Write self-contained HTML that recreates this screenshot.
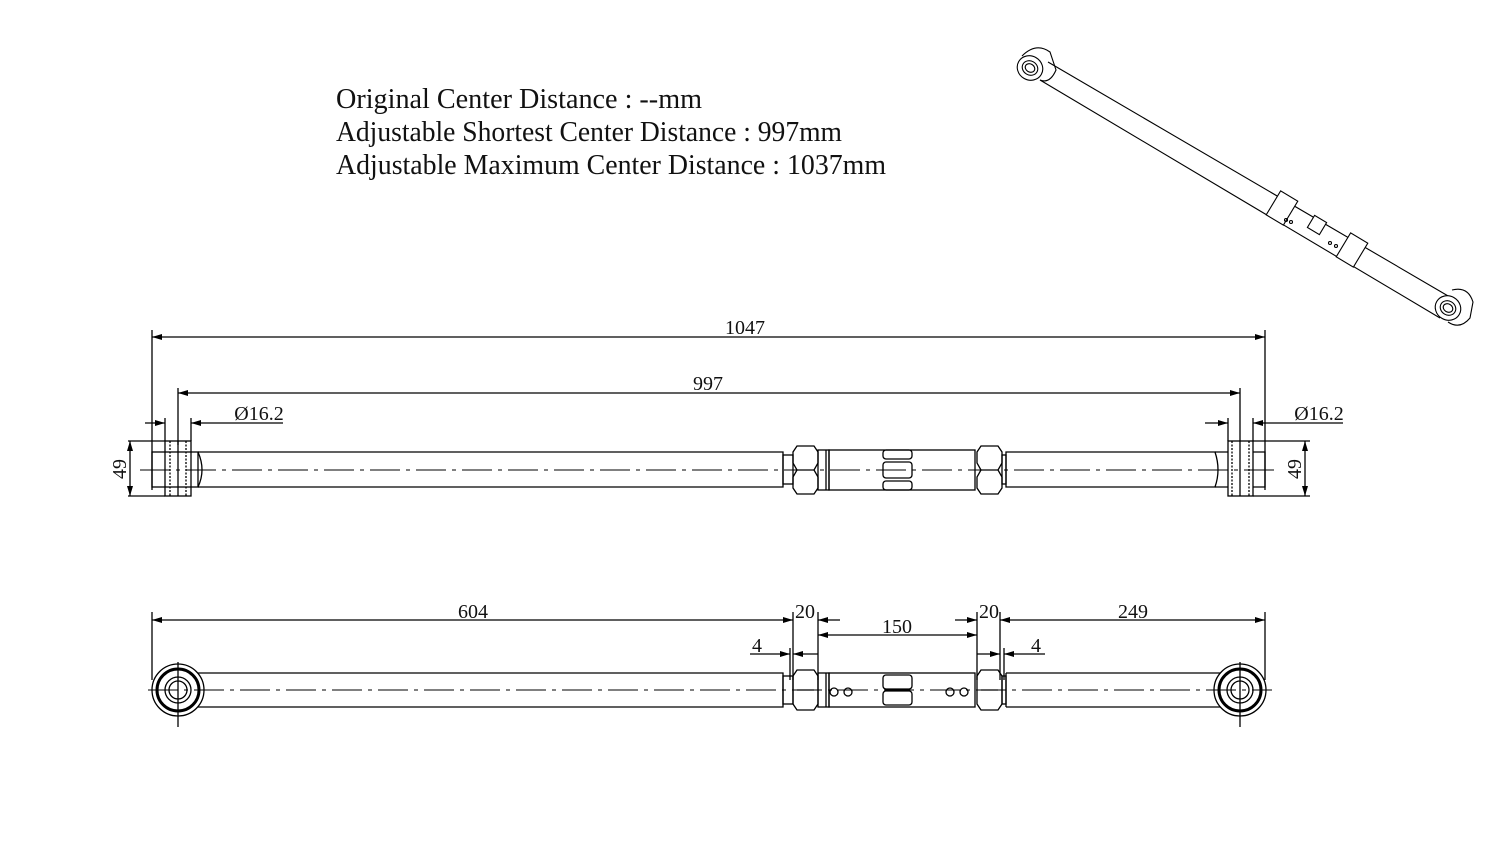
<!DOCTYPE html>
<html><head><meta charset="utf-8"><style>html,body{margin:0;padding:0;background:#fff}svg{display:block}</style></head>
<body>
<svg width="1500" height="845" viewBox="0 0 1500 845" xmlns="http://www.w3.org/2000/svg" font-family="Liberation Serif, serif">
<defs>
<marker id="a" viewBox="0 0 10 6" refX="10" refY="3" markerWidth="10" markerHeight="6" orient="auto-start-reverse" markerUnits="userSpaceOnUse"><path d="M0,0L10,3L0,6z" fill="#000"/></marker>
</defs>
<g fill="#111" font-size="28">
<text x="336" y="108" textLength="366" lengthAdjust="spacingAndGlyphs">Original  Center Distance : --mm</text>
<text x="336" y="141" textLength="506" lengthAdjust="spacingAndGlyphs">Adjustable Shortest Center Distance : 997mm</text>
<text x="336" y="174" textLength="550" lengthAdjust="spacingAndGlyphs">Adjustable Maximum  Center Distance : 1037mm</text>
</g>
<g stroke="#000" fill="none" stroke-width="1.3">
<line x1="152" y1="330" x2="152" y2="490"/><line x1="1265" y1="330" x2="1265" y2="490"/>
<line x1="152" y1="337" x2="1265" y2="337" marker-start="url(#a)" marker-end="url(#a)"/>
<line x1="178" y1="388" x2="178" y2="445"/><line x1="1240" y1="388" x2="1240" y2="445"/>
<line x1="178" y1="393" x2="1240" y2="393" marker-start="url(#a)" marker-end="url(#a)"/>
<line x1="145" y1="423" x2="165" y2="423" marker-end="url(#a)"/><line x1="211" y1="423" x2="191" y2="423" marker-end="url(#a)"/><line x1="211" y1="423" x2="283" y2="423"/>
<line x1="165" y1="418" x2="165" y2="441"/><line x1="191" y1="418" x2="191" y2="441"/>
<line x1="1205" y1="423" x2="1228" y2="423" marker-end="url(#a)"/><line x1="1275" y1="423" x2="1253" y2="423" marker-end="url(#a)"/><line x1="1275" y1="423" x2="1343" y2="423"/>
<line x1="1228" y1="418" x2="1228" y2="441"/><line x1="1253" y1="418" x2="1253" y2="441"/>
<line x1="128" y1="441" x2="165" y2="441"/><line x1="128" y1="496" x2="165" y2="496"/>
<line x1="130" y1="441" x2="130" y2="496" marker-start="url(#a)" marker-end="url(#a)"/>
<line x1="1253" y1="441" x2="1310" y2="441"/><line x1="1253" y1="496" x2="1310" y2="496"/>
<line x1="1305" y1="441" x2="1305" y2="496" marker-start="url(#a)" marker-end="url(#a)"/>
<rect x="152" y="452" width="46" height="35"/>
<rect x="165" y="441" width="26" height="55"/>
<line x1="170" y1="441" x2="170" y2="496" stroke-dasharray="2 1.5"/><line x1="186" y1="441" x2="186" y2="496" stroke-dasharray="2 1.5"/>
<line x1="178" y1="441" x2="178" y2="496"/>
<path d="M198,452 Q206,470 198,487 M198,452 H783 V487 H198"/>
<rect x="783" y="455" width="10" height="29"/>
<path d="M797,446 H814 L818,452 V463 L814,470 L818,477 V488 L814,494 H797 L793,488 V477 L797,470 L793,463 V452 Z"/>
<line x1="797" y1="470" x2="814" y2="470"/>
<rect x="818" y="450" width="11" height="40"/><line x1="826" y1="450" x2="826" y2="490"/>
<rect x="829" y="450" width="146" height="40"/>
<rect x="883" y="450" width="29" height="9" rx="3"/><rect x="883" y="462" width="29" height="16" rx="3"/><rect x="883" y="481" width="29" height="9" rx="3"/>
<path d="M981,446 H998 L1002,452 V463 L998,470 L1002,477 V488 L998,494 H981 L977,488 V477 L981,470 L977,463 V452 Z"/>
<line x1="981" y1="470" x2="998" y2="470"/>
<rect x="1002" y="455" width="4" height="29"/>
<path d="M1006,452 H1215 Q1221,470 1215,487 H1006 Z"/>
<path d="M1215,452 H1265 V487 H1215"/>
<rect x="1228" y="441" width="25" height="55" fill="#fff"/>
<line x1="1232" y1="441" x2="1232" y2="496" stroke-dasharray="2 1.5"/><line x1="1249" y1="441" x2="1249" y2="496" stroke-dasharray="2 1.5"/>
<line x1="1240" y1="441" x2="1240" y2="496"/>
<line x1="140" y1="470" x2="1275" y2="470" stroke-dasharray="30 6 4 6" stroke-width="1"/>
<line x1="152" y1="612" x2="152" y2="680"/><line x1="1265" y1="612" x2="1265" y2="680"/>
<line x1="793" y1="612" x2="793" y2="680"/><line x1="818" y1="612" x2="818" y2="680"/>
<line x1="977" y1="612" x2="977" y2="680"/><line x1="1000" y1="612" x2="1000" y2="680"/>
<line x1="790" y1="648" x2="790" y2="680"/><line x1="1004" y1="648" x2="1004" y2="680"/>
<line x1="152" y1="620" x2="793" y2="620" marker-start="url(#a)" marker-end="url(#a)"/>
<line x1="818" y1="620" x2="840" y2="620" marker-start="url(#a)"/>
<line x1="955" y1="620" x2="977" y2="620" marker-end="url(#a)"/>
<line x1="1000" y1="620" x2="1265" y2="620" marker-start="url(#a)" marker-end="url(#a)"/>
<line x1="818" y1="635" x2="977" y2="635" marker-start="url(#a)" marker-end="url(#a)"/>
<line x1="750" y1="654" x2="790" y2="654" marker-end="url(#a)"/><line x1="818" y1="654" x2="793" y2="654" marker-end="url(#a)"/>
<line x1="977" y1="654" x2="1000" y2="654" marker-end="url(#a)"/><line x1="1045" y1="654" x2="1004" y2="654" marker-end="url(#a)"/>
<path d="M178,673 H783 V707 H178"/>
<rect x="783" y="676" width="10" height="28"/>
<path d="M797,670 H814 L818,676 V704 L814,710 H797 L793,704 V676 Z"/><line x1="797" y1="690" x2="814" y2="690"/>
<rect x="818" y="673" width="11" height="34"/><line x1="826" y1="673" x2="826" y2="707"/>
<rect x="829" y="673" width="146" height="34"/>
<rect x="883" y="675" width="29" height="14" rx="3"/><rect x="883" y="691" width="29" height="14" rx="3"/>
<circle cx="834" cy="692" r="4"/><circle cx="848" cy="692" r="4"/><circle cx="950" cy="692" r="4"/><circle cx="964" cy="692" r="4"/>
<path d="M981,670 H998 L1002,676 V704 L998,710 H981 L977,704 V676 Z"/><line x1="981" y1="690" x2="998" y2="690"/>
<rect x="1002" y="676" width="4" height="28"/>
<path d="M1006,673 H1240 M1006,707 H1240 M1006,673 V707"/>
<circle cx="178" cy="690" r="26" fill="#fff"/><circle cx="178" cy="690" r="21" stroke-width="3"/><circle cx="178" cy="690" r="13"/><circle cx="178" cy="690" r="9"/>
<circle cx="1240" cy="690" r="26" fill="#fff"/><circle cx="1240" cy="690" r="21" stroke-width="3"/><circle cx="1240" cy="690" r="13"/><circle cx="1240" cy="690" r="9"/>
<line x1="148" y1="690" x2="1272" y2="690" stroke-dasharray="30 6 4 6" stroke-width="1"/>
<line x1="178" y1="662" x2="178" y2="727"/><line x1="1240" y1="662" x2="1240" y2="727"/>
<g stroke-width="1.1">
<path d="M1048,62 L1455,300 M1040,80 L1440,318"/>
<path d="M1022,56 Q1036,42 1050,52 L1056,70 Q1050,84 1040,80"/>
<ellipse cx="1030" cy="68" rx="13" ry="12" transform="rotate(30 1030 68)" fill="#fff"/>
<ellipse cx="1030" cy="68" rx="8" ry="7" transform="rotate(30 1030 68)"/>
<ellipse cx="1030" cy="68" rx="5" ry="4" transform="rotate(30 1030 68)"/>
<rect x="1272" y="194" width="20" height="28" transform="rotate(31 1282 208)" fill="#fff"/>
<rect x="1342" y="236" width="20" height="28" transform="rotate(31 1352 250)" fill="#fff"/>
<rect x="1310" y="218" width="14" height="14" transform="rotate(31 1317 225)" fill="#fff"/>
<path d="M1452,290 Q1468,286 1473,302 L1470,318 Q1460,330 1448,322"/>
<ellipse cx="1448" cy="308" rx="13" ry="12" transform="rotate(30 1448 308)" fill="#fff"/>
<ellipse cx="1448" cy="308" rx="8" ry="7" transform="rotate(30 1448 308)"/>
<ellipse cx="1448" cy="308" rx="5" ry="4" transform="rotate(30 1448 308)"/>
<circle cx="1286" cy="220" r="1.5"/><circle cx="1291" cy="222" r="1.5"/><circle cx="1330" cy="243" r="1.5"/><circle cx="1336" cy="246" r="1.5"/>
</g>
</g>
<g fill="#111" font-size="20" text-anchor="middle">
<text x="745" y="334">1047</text>
<text x="708" y="390">997</text>
<text x="259" y="420">Ø16.2</text>
<text x="1319" y="420">Ø16.2</text>
<text x="473" y="618">604</text>
<text x="805" y="618">20</text>
<text x="897" y="633">150</text>
<text x="989" y="618">20</text>
<text x="1133" y="618">249</text>
<text x="757" y="652">4</text>
<text x="1036" y="652">4</text>
<text transform="translate(126,469) rotate(-90)">49</text>
<text transform="translate(1301,469) rotate(-90)">49</text>
</g>
</svg>
</body></html>
